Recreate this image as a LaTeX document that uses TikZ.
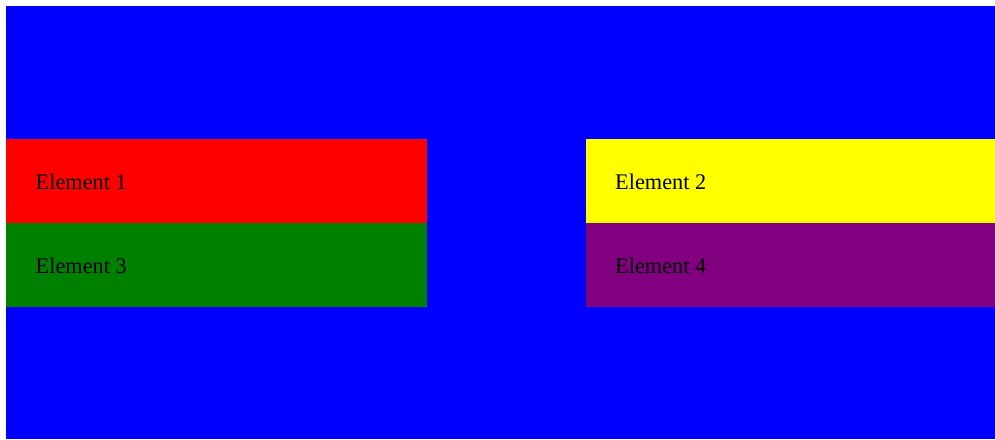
\documentclass[tikz,border=0pt]{standalone}
\usepackage{fontspec}
\setmainfont{Liberation Serif}
\definecolor{cblue}{HTML}{0000FF}
\definecolor{cred}{HTML}{FF0000}
\definecolor{cgreen}{HTML}{008000}
\definecolor{cyellow}{HTML}{FFFF00}
\definecolor{cpurple}{HTML}{800080}
\tikzset{
  lbl/.style={anchor=base west, inner sep=0pt, font=\fontsize{22.3}{26}\selectfont, text=black},
}
\begin{document}
\begin{tikzpicture}[x=1pt,y=-1pt]
\useasboundingbox (0,0) rectangle (995,439);
\fill[white] (0,0) rectangle (995,439);
\fill[cblue] (6,6) rectangle (995,439);
\fill[cred] (6,138.5) rectangle (427.3,223);
\fill[cgreen] (6,223) rectangle (427.3,307.3);
\fill[cyellow] (585.7,138.5) rectangle (995,223);
\fill[cpurple] (585.7,223) rectangle (995,307.3);
\node[lbl] (e1) at (35.5,189.3) {Element 1};
\node[lbl] (e2) at (615,189.3) {Element 2};
\node[lbl] (e3) at (35.5,273.6) {Element 3};
\node[lbl] (e4) at (615,273.6) {Element 4};
\end{tikzpicture}
\end{document}
